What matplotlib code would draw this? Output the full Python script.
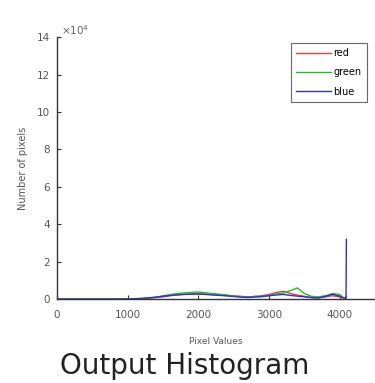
import matplotlib
matplotlib.use("Agg")
import matplotlib.pyplot as plt
from matplotlib.ticker import FuncFormatter

# Histogram data (pixel value bins and counts)
pixel_values = [0, 200, 400, 600, 800, 1000, 1100, 1200, 1300, 1400, 1500, 1600, 1700, 1800,
                1900, 2000, 2100, 2200, 2300, 2400, 2500, 2600, 2700, 2800, 2900, 3000,
                3100, 3200, 3300, 3400, 3500, 3600, 3700, 3800, 3900, 4000, 4050, 4090, 4095]
red_counts = [0, 0, 0, 0, 0, 100, 200, 300, 500, 800, 1200, 1800, 2200, 2600,
              2800, 3000, 2700, 2500, 2300, 2000, 1800, 1500, 1200, 1400, 1800, 2500,
              3500, 4200, 3000, 2200, 1500, 900, 700, 1200, 1800, 1200, 600, 500, 1500]
green_counts = [0, 0, 0, 0, 0, 50, 150, 300, 600, 1000, 1800, 2400, 3000, 3300,
                3600, 3800, 3400, 3000, 2600, 2200, 1600, 1200, 1000, 1500, 1300, 2000,
                2800, 3200, 4500, 6000, 3000, 1500, 1200, 1800, 3000, 2500, 800, 600, 1200]
blue_counts = [0, 0, 0, 0, 0, 100, 250, 400, 700, 1100, 1500, 2000, 2300, 2500,
               2600, 2700, 2500, 2200, 2000, 1700, 1400, 1100, 900, 1100, 1400, 1800,
               2200, 2500, 2000, 1600, 1200, 800, 600, 1500, 2600, 1600, 800, 600, 32000]

series = [("red", red_counts, "#e04040"), ("green", green_counts, "#20c020"), ("blue", blue_counts, "#3030c8")]

x_ticks = [0, 1000, 2000, 3000, 4000]
y_ticks = [0, 20000, 40000, 60000, 80000, 100000, 120000, 140000]

fig = plt.figure(figsize=(3.75, 3.83), dpi=100)
ax = fig.add_axes([0.152, 0.219, 0.848, 0.684])

for name, counts, color in series:
    ax.plot(pixel_values, counts, color=color, lw=1.0, label=name)

ax.set_xlim(0, 4500)
ax.set_ylim(0, 140000)
ax.set_xticks(x_ticks)
ax.set_yticks(y_ticks)
ax.yaxis.set_major_formatter(FuncFormatter(lambda v, p: f"{v/1e4:g}"))
ax.tick_params(direction="in", length=3, labelsize=7.5, colors="#333333", labelcolor="#555555")
ax.tick_params(axis="x", pad=8)
ax.tick_params(axis="y", pad=5)
for s in ["top", "right"]:
    ax.spines[s].set_visible(False)
for s in ["left", "bottom"]:
    ax.spines[s].set_color("#333344")
    ax.spines[s].set_linewidth(1.0)

ax.text(0.012, 1.0, r"$\times10^4$", transform=ax.transAxes, fontsize=7.5, color="#666666",
        va="bottom", ha="left")

ax.set_xlabel("Pixel Values", fontsize=6.5, color="#555555", labelpad=12)
ax.set_ylabel("Number of pixels", fontsize=7, color="#555555", labelpad=6)

leg = ax.legend(loc="upper right", bbox_to_anchor=(0.975, 0.978), fontsize=7, frameon=True,
                fancybox=False, edgecolor="#444444", handlelength=3.6, borderpad=0.55,
                labelspacing=0.95, handletextpad=0.25, borderaxespad=0.0)
leg.get_frame().set_linewidth(0.8)

fig.text(0.493, 0.045, "Output Histogram", fontsize=20, ha="center", va="center", color="#222222")

fig.savefig("out.png", dpi=100)
